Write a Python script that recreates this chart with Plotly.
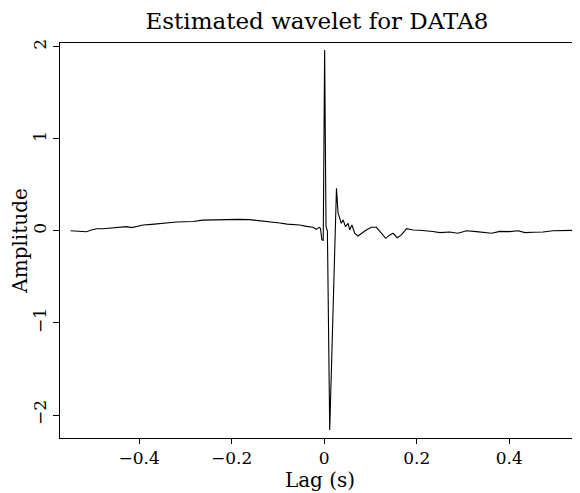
import plotly.graph_objects as go

# Data
lag = [-0.548, -0.530, -0.514, -0.503, -0.492, -0.478, -0.463, -0.445, -0.427, -0.416,
       -0.404, -0.391, -0.373, -0.355, -0.337, -0.319, -0.301, -0.283, -0.262, -0.240,
       -0.211, -0.186, -0.161, -0.143, -0.125, -0.110, -0.096, -0.080, -0.067, -0.053,
       -0.038, -0.031, -0.024, -0.017, -0.011, -0.008, -0.005, -0.002, 0.001, 0.004,
       0.007, 0.012, 0.0266, 0.030, 0.032, 0.037, 0.041, 0.046, 0.052, 0.055,
       0.060, 0.066, 0.073, 0.078, 0.084, 0.091, 0.102, 0.113, 0.124, 0.133,
       0.142, 0.149, 0.158, 0.167, 0.178, 0.192, 0.206, 0.221, 0.235, 0.250,
       0.271, 0.289, 0.308, 0.329, 0.347, 0.362, 0.380, 0.401, 0.419, 0.434,
       0.452, 0.473, 0.495, 0.510, 0.524, 0.549]
amplitude = [0.003, 0.000, -0.008, 0.010, 0.025, 0.025, 0.033, 0.040, 0.047, 0.036,
             0.050, 0.065, 0.072, 0.083, 0.090, 0.098, 0.100, 0.103, 0.118, 0.122,
             0.127, 0.126, 0.123, 0.115, 0.105, 0.098, 0.087, 0.075, 0.073, 0.065,
             0.050, 0.047, 0.040, 0.018, 0.040, 0.030, -0.095, -0.100, 1.967, 0.05,
             0.00, -2.163, 0.464, 0.20, 0.156, 0.083, 0.120, 0.047, 0.083, 0.011,
             0.065, -0.025, -0.054, -0.035, -0.007, 0.011, 0.040, 0.040, -0.025, -0.080,
             -0.043, -0.025, -0.073, -0.043, 0.025, 0.011, 0.008, 0.003, -0.005, -0.018,
             -0.011, -0.025, 0.003, -0.007, -0.018, -0.025, -0.004, -0.007, 0.003, -0.018,
             -0.014, -0.011, 0.003, 0.005, 0.011, 0.008]

x_ticks = [-0.4, -0.2, 0, 0.2, 0.4]
x_tick_labels = ["\u22120.4", "\u22120.2", "0", "0.2", "0.4"]
y_ticks = [-2, -1, 0, 1, 2]
y_tick_labels = ["\u22122", "\u22121", "0", "1", "2"]

FONT = "DejaVu Serif"
W, H = 572, 485  # page body adds an 8px offset

fig = go.Figure()
fig.add_trace(go.Scatter(x=lag, y=amplitude, mode="lines",
                         line=dict(color="black", width=1.1), showlegend=False,
                         hoverinfo="skip"))

fig.update_layout(
    width=W, height=H,
    margin=dict(l=52, r=0, t=35, b=55),
    paper_bgcolor="white", plot_bgcolor="white",
    font=dict(family=FONT, color="black", size=17),
    title=dict(text="Estimated wavelet for DATA8", x=(317 - 8) / W, xanchor="center",
               xref="container", y=1 - (21 - 8) / H, yanchor="middle", yref="container",
               font=dict(family=FONT, size=23, color="black")),
)
fig.update_xaxes(
    range=[-0.571, 0.553], tickvals=x_ticks, ticktext=x_tick_labels,
    showline=True, linecolor="black", linewidth=1, mirror=True,
    ticks="outside", ticklen=5, tickcolor="black", showgrid=False, zeroline=False,
    tickfont=dict(family=FONT, size=17),
    title=dict(text="Lag (s)", font=dict(family=FONT, size=20), standoff=3),
)
fig.update_yaxes(
    range=[-2.25, 2.043], tickvals=y_ticks, ticktext=y_tick_labels,
    showline=True, linecolor="black", linewidth=1, mirror=False,
    ticks="outside", ticklen=6, tickcolor="black", showgrid=False, zeroline=False,
    tickangle=-90, tickfont=dict(family=FONT, size=17),
    title=dict(text="Amplitude", font=dict(family=FONT, size=20), standoff=3),
)

fig.write_html("out.html")
